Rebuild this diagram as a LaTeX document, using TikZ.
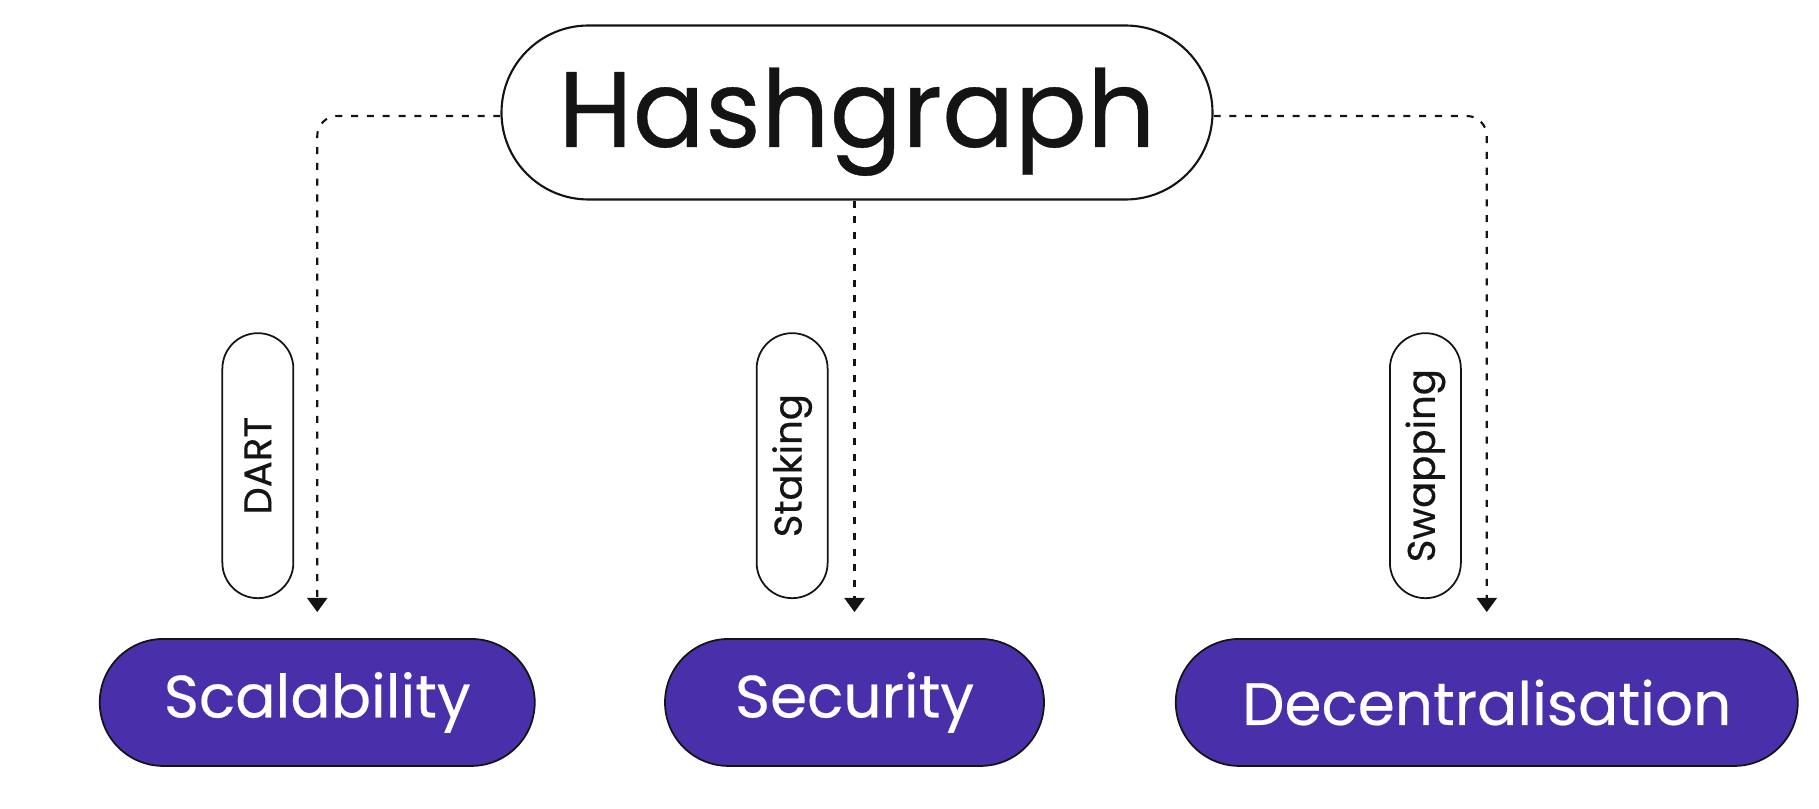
\documentclass[tikz,border=0pt]{standalone}
\usepackage{fontspec}
\setmainfont{Poppins}[FakeBold=0.35]
\usepackage{xcolor}
\usepackage{tikz}
\usetikzlibrary{arrows.meta, positioning, calc}
\definecolor{hgpurple}{RGB}{73, 48, 170}
\definecolor{hgink}{RGB}{20, 20, 20}
\tikzset{
    rootpill/.style = {rectangle, draw=hgink, fill=white, line width=0.6pt, minimum width=7.11cm, minimum height=1.74cm, rounded corners=0.87cm, text=hgink, text depth=3pt, font=\fontsize{30.5}{36}\selectfont},
    tagpill/.style = {rectangle, draw=hgink, fill=white, line width=0.5pt, minimum width=0.71cm, minimum height=2.65cm, rounded corners=0.355cm, inner sep=0pt, text=hgink, font=\fontsize{11}{13}\selectfont},
    goalpill/.style = {rectangle, draw=hgink, fill=hgpurple, line width=0.5pt, minimum height=1.27cm, rounded corners=0.635cm, text=white, font=\fontsize{17}{20}\selectfont},
    dotarrow/.style = {line width=0.6pt, dash pattern=on 2pt off 2.5pt, -{Triangle[width=5.7pt, length=4pt]}, draw=hgink, rounded corners=2mm, shorten >=2.6mm}
}
\begin{document}
\begin{tikzpicture}
\useasboundingbox (0,0) rectangle (18.19,8.08);
% Nodes
\node (hash) [rootpill] at (8.57,6.955) {Hashgraph};
\node (sec) [goalpill, minimum width=3.79cm, below=4.375cm of hash, xshift=-0.025cm] {Security};
\node (scal) [goalpill, minimum width=4.35cm, left=1.285cm of sec] {Scalability};
\node (dec) [goalpill, minimum width=6.22cm, right=1.3cm of sec] {Decentralisation};

\node (dart) [tagpill, above left=0.39cm and 0.23cm of scal.north] {\rotatebox{90}{DART}};
\node (stake) [tagpill, above left=0.39cm and 0.26cm of sec.north] {\rotatebox{90}{Staking}};
\node (swap) [tagpill, above left=0.39cm and 0.25cm of dec.north] {\rotatebox{90}{Swapping}};

% Arrows
\draw [dotarrow] ([yshift=-0.35mm]hash.west) -| (scal.north);
\draw [dotarrow] (hash.south -| sec.north) -- (sec.north);
\draw [dotarrow] ([yshift=-0.35mm]hash.east) -| (dec.north);

\end{tikzpicture}
\end{document}
